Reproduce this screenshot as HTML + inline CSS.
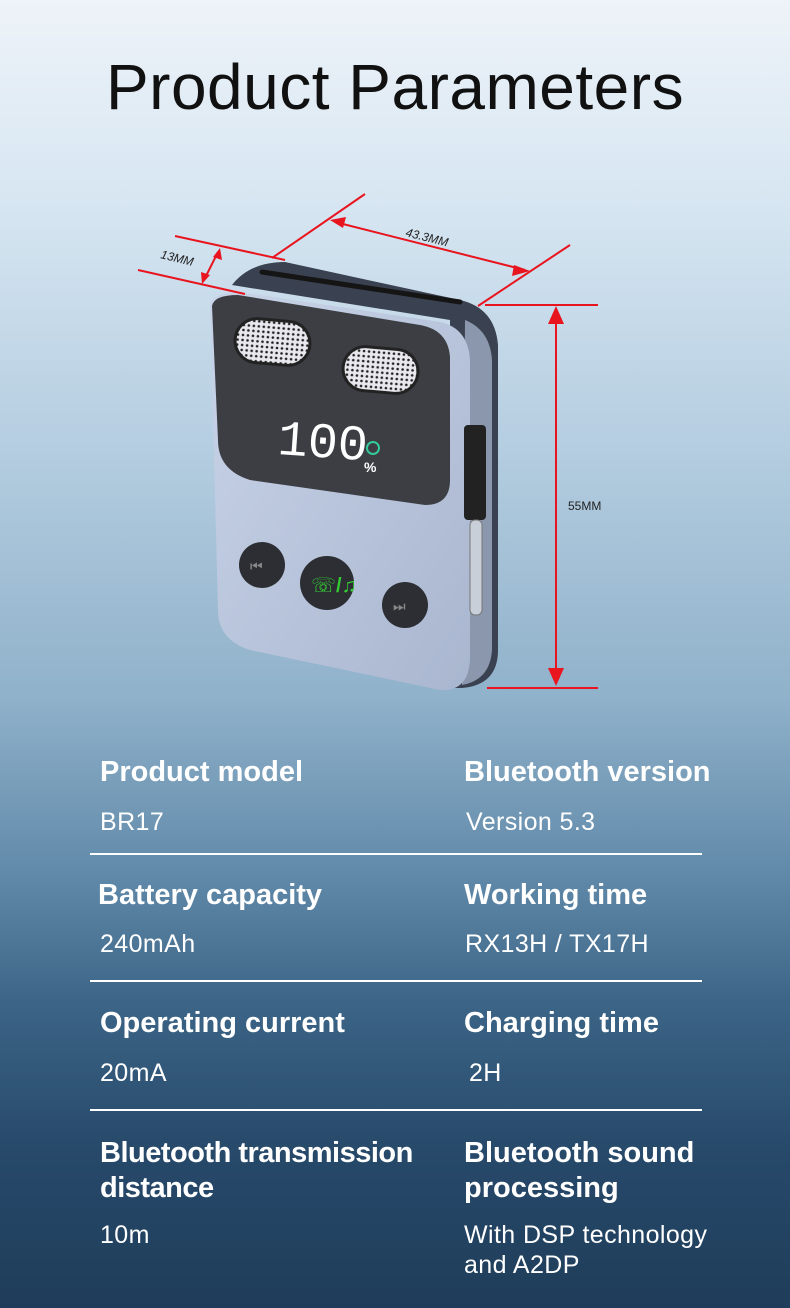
<!DOCTYPE html>
<html><head><meta charset="utf-8"><style>
body{margin:0;width:790px;height:1308px;overflow:hidden;font-family:"Liberation Sans","DejaVu Sans",sans-serif;
background:linear-gradient(180deg,#eef3f8 0px,#d7e6f2 200px,#b4cde0 450px,#8fb1ca 700px,#5f88a8 880px,#3c6587 1000px,#27496a 1150px,#1f3d5a 1308px);position:relative}
.t{position:absolute;left:0;width:790px;text-align:center;top:50px;font-size:64px;color:#111;letter-spacing:0.5px}
.l{position:absolute;color:#fff;font-size:29px;line-height:35px;font-weight:bold}
.v{position:absolute;color:#fff;font-size:25px;line-height:30px;letter-spacing:0.4px}
.hr{position:absolute;left:90px;width:612px;height:2px;background:#fff}
</style></head><body>
<div class="t">Product Parameters</div>
<svg width="790" height="720" style="position:absolute;left:0;top:0">
<defs>
<linearGradient id="bd" x1="0" y1="0" x2="1" y2="1"><stop offset="0" stop-color="#c9d4e8"/><stop offset="1" stop-color="#a9b6cf"/></linearGradient>
<pattern id="dots" width="5" height="5" patternUnits="userSpaceOnUse"><rect width="5" height="5" fill="#e8e8ee"/><circle cx="2.5" cy="2.5" r="1.3" fill="#222"/></pattern>
</defs>
<path d="M232,285 Q250,262 285,262 L460,300 Q495,308 498,345 L498,650 Q498,685 462,688 L450,688 L450,320 Z" fill="#3a4150"/>
<path d="M465,320 Q490,330 492,360 L492,650 Q490,680 462,685 Z" fill="#8a97ad"/>
<path d="M210,305 Q212,292 240,292 L440,322 Q468,328 470,360 L470,660 Q468,692 440,690 L250,650 Q218,640 218,610 Z" fill="url(#bd)"/>
<path d="M212,306 Q214,295 238,295 L420,325 Q448,330 450,357 L450,480 Q450,505 425,505 L250,480 Q218,470 218,440 Z" fill="#3c3e44"/>
<path d="M262,272 L460,302" stroke="#151515" stroke-width="5" stroke-linecap="round"/>
<rect x="235" y="320" width="75" height="44" rx="22" fill="url(#dots)" stroke="#222" stroke-width="3" transform="rotate(5 272 342)"/>
<rect x="343" y="348" width="75" height="44" rx="22" fill="url(#dots)" stroke="#222" stroke-width="3" transform="rotate(5 380 370)"/>
<text x="278" y="457" font-size="50" fill="#fff" font-family="Liberation Mono,monospace" transform="rotate(4 320 440)">100</text>
<text x="364" y="472" font-size="14" fill="#fff" font-weight="bold">%</text>
<circle cx="373" cy="448" r="6" fill="none" stroke="#3c9" stroke-width="2"/>
<circle cx="262" cy="565" r="23" fill="#2c2e33"/><text x="250" y="571" font-size="14" fill="#888">⏮</text>
<circle cx="327" cy="583" r="27" fill="#2c2e33"/><text x="311" y="592" font-size="20" fill="#3c3" font-weight="bold">☏/♫</text>
<circle cx="405" cy="605" r="23" fill="#2c2e33"/><text x="393" y="611" font-size="14" fill="#888">⏭</text>
<rect x="464" y="425" width="22" height="95" rx="4" fill="#222"/>
<rect x="470" y="520" width="12" height="95" rx="5" fill="#c9cfd8" stroke="#777"/>
<g stroke="#e8141e" stroke-width="2" fill="none">
<line x1="272" y1="258" x2="365" y2="194"/>
<line x1="478" y1="306" x2="570" y2="245"/>
<line x1="335" y1="222" x2="525" y2="270"/>
<line x1="175" y1="236" x2="285" y2="260"/>
<line x1="138" y1="270" x2="245" y2="294"/>
<line x1="218" y1="252" x2="204" y2="280"/>
<line x1="485" y1="305" x2="598" y2="305"/>
<line x1="487" y1="688" x2="598" y2="688"/>
<line x1="556" y1="318" x2="556" y2="676"/>
</g>
<g fill="#e8141e">
<polygon points="330,220 346,217 343,228"/><polygon points="530,271 514,265 512,276"/>
<polygon points="220,248 222,260 213,257"/><polygon points="202,284 201,272 210,275"/>
<polygon points="556,306 548,324 564,324"/><polygon points="556,686 548,668 564,668"/>
</g>
<text x="405" y="236" font-size="12" fill="#222" font-style="italic" transform="rotate(14 405 236)">43.3MM</text>
<text x="160" y="258" font-size="12" fill="#222" font-style="italic" transform="rotate(14 160 258)">13MM</text>
<text x="568" y="510" font-size="12" fill="#222">55MM</text>
</svg>
<div class="l" style="left:100px;top:755px">Product model</div>
<div class="l" style="left:464px;top:755px">Bluetooth version</div>
<div class="v" style="left:100px;top:807px">BR17</div>
<div class="v" style="left:466px;top:807px">Version 5.3</div>
<div class="hr" style="top:853px"></div>
<div class="l" style="left:98px;top:878px">Battery capacity</div>
<div class="l" style="left:464px;top:878px">Working time</div>
<div class="v" style="left:100px;top:929px">240mAh</div>
<div class="v" style="left:465px;top:929px">RX13H / TX17H</div>
<div class="hr" style="top:980px"></div>
<div class="l" style="left:100px;top:1006px">Operating current</div>
<div class="l" style="left:464px;top:1006px">Charging time</div>
<div class="v" style="left:100px;top:1058px">20mA</div>
<div class="v" style="left:469px;top:1058px">2H</div>
<div class="hr" style="top:1109px"></div>
<div class="l" style="left:100px;top:1136px;letter-spacing:-0.5px">Bluetooth transmission<br>distance</div>
<div class="l" style="left:464px;top:1136px">Bluetooth sound<br>processing</div>
<div class="v" style="left:100px;top:1220px">10m</div>
<div class="v" style="left:464px;top:1220px">With DSP technology<br>and A2DP</div>
</body></html>
